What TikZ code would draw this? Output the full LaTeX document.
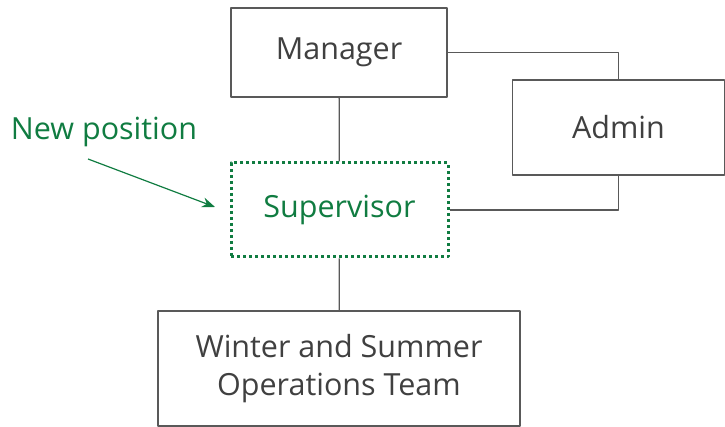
\documentclass[tikz,border=0pt]{standalone}
\usepackage{fontspec}
\setmainfont{Open Sans}
\usetikzlibrary{arrows.meta}
\definecolor{boxgrey}{RGB}{89,89,89}
\definecolor{textgrey}{RGB}{64,64,64}
\definecolor{newgreen}{RGB}{16,124,65}
\begin{document}
\begin{tikzpicture}[x=1pt, y=-1pt, font=\fontsize{30.5}{38}\selectfont, line join=round, >={Stealth[length=13pt,width=10pt]},
	box/.style={draw=boxgrey, line width=1.3pt, text=textgrey, align=center, inner sep=0pt},
	newbox/.style={draw=newgreen, line width=3pt, dash pattern=on 3pt off 3pt, text=newgreen, inner sep=0pt},
	link/.style={draw=boxgrey, line width=1.3pt}]
	\useasboundingbox (0,0) rectangle (725,427);
	% boxes
	\node[box, minimum width=216pt, minimum height=89pt] (manager) at (339,52.5) {Manager};
	\node[box, minimum width=212pt, minimum height=95pt] (admin) at (618.5,127.5) {Admin};
	\node[newbox, minimum width=217pt, minimum height=94pt] (super) at (339.5,210) {Supervisor};
	\node[box, minimum width=362pt, minimum height=115pt] (team) at (339,368.5) {Winter and Summer\\Operations Team};
	% connectors
	\draw[link] (manager) -- (super);
	\draw[link] (super) -- (team);
	\draw[link] (manager.east) -| (admin.north);
	\draw[link] (admin.south) |- (super.east);
	% label for the new role
	\node[text=newgreen, inner sep=0pt] (newpos) at (104,132) {New position};
	\coordinate (tail) at (88,159);
	\coordinate (tip) at (215,207);
	\draw[->, newgreen, line width=1.2pt] (tail) -- (tip);
\end{tikzpicture}
\end{document}
